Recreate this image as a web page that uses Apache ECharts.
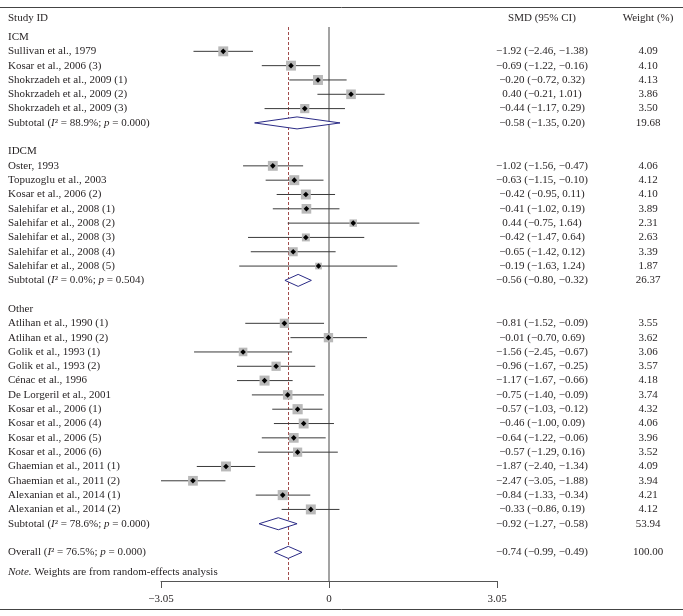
<!DOCTYPE html>
<html>
<head>
<meta charset="utf-8">
<script src="https://cdn.jsdelivr.net/npm/echarts@6/dist/echarts.min.js"></script>
<style>
html,body{margin:0;padding:0;background:#fff;}
#chart{width:683px;height:616px;}
</style>
</head>
<body>
<div id="chart"></div>
<script>
// ---------- DATA ----------
const headerLabels = ['Study ID', 'SMD (95% CI)', 'Weight (%)'];
const groupNames = ['ICM', 'IDCM', 'Other'];
const groupSizes = [5, 8, 14];
const studyNames = [
  'Sullivan et al., 1979', 'Kosar et al., 2006 (3)', 'Shokrzadeh et al., 2009 (1)', 'Shokrzadeh et al., 2009 (2)', 'Shokrzadeh et al., 2009 (3)',
  'Oster, 1993', 'Topuzoglu et al., 2003', 'Kosar et al., 2006 (2)', 'Salehifar et al., 2008 (1)', 'Salehifar et al., 2008 (2)',
  'Salehifar et al., 2008 (3)', 'Salehifar et al., 2008 (4)', 'Salehifar et al., 2008 (5)',
  'Atlihan et al., 1990 (1)', 'Atlihan et al., 1990 (2)', 'Golik et al., 1993 (1)', 'Golik et al., 1993 (2)', 'Cénac et al., 1996',
  'De Lorgeril et al., 2001', 'Kosar et al., 2006 (1)', 'Kosar et al., 2006 (4)', 'Kosar et al., 2006 (5)', 'Kosar et al., 2006 (6)',
  'Ghaemian et al., 2011 (1)', 'Ghaemian et al., 2011 (2)', 'Alexanian et al., 2014 (1)', 'Alexanian et al., 2014 (2)'
];
const smd = [-1.92, -0.69, -0.20, 0.40, -0.44,
  -1.02, -0.63, -0.42, -0.41, 0.44, -0.42, -0.65, -0.19,
  -0.81, -0.01, -1.56, -0.96, -1.17, -0.75, -0.57, -0.46, -0.64, -0.57, -1.87, -2.47, -0.84, -0.33];
const ciLow = [-2.46, -1.22, -0.72, -0.21, -1.17,
  -1.56, -1.15, -0.95, -1.02, -0.75, -1.47, -1.42, -1.63,
  -1.52, -0.70, -2.45, -1.67, -1.67, -1.40, -1.03, -1.00, -1.22, -1.29, -2.40, -3.05, -1.33, -0.86];
const ciHigh = [-1.38, -0.16, 0.32, 1.01, 0.29,
  -0.47, -0.10, 0.11, 0.19, 1.64, 0.64, 0.12, 1.24,
  -0.09, 0.69, -0.67, -0.25, -0.66, -0.09, -0.12, 0.09, -0.06, 0.16, -1.34, -1.88, -0.34, 0.19];
const weights = [4.09, 4.10, 4.13, 3.86, 3.50,
  4.06, 4.12, 4.10, 3.89, 2.31, 2.63, 3.39, 1.87,
  3.55, 3.62, 3.06, 3.57, 4.18, 3.74, 4.32, 4.06, 3.96, 3.52, 4.09, 3.94, 4.21, 4.12];
const subtotalI2 = ['88.9', '0.0', '78.6'];
const subtotalP = ['0.000', '0.504', '0.000'];
const subtotalSMD = [-0.58, -0.56, -0.92];
const subtotalLow = [-1.35, -0.80, -1.27];
const subtotalHigh = [0.20, -0.32, -0.58];
const subtotalWeight = [19.68, 26.37, 53.94];
const overallI2 = '76.5';
const overallP = '0.000';
const overallSMD = -0.74;
const overallLow = -0.99;
const overallHigh = -0.49;
const overallWeight = 100.00;
const noteText = 'Weights are from random-effects analysis';
const xTicks = [-3.05, 0, 3.05];

// ---------- LAYOUT / STYLE ----------
const FONT = '"Liberation Serif", "DejaVu Serif", serif';
const FS = 11;
const TXT = '#231f20';
const COL_LABEL_X = 8, COL_SMD_X = 542, COL_W_X = 648;
const HEADER_ROW = -1.33, NOTE_ROW = 37.35;

function fmt(v) { const s = v.toFixed(2); return s.replace('-', '\u2212'); }
function ciText(e, l, h) { return fmt(e) + ' (' + fmt(l) + ', ' + fmt(h) + ')'; }

// build rows
const rows = [];
let r = 0, si = 0;
rows.push({kind: 'header', row: HEADER_ROW});
for (let g = 0; g < groupNames.length; g++) {
  rows.push({kind: 'group', row: r, label: groupNames[g]}); r++;
  for (let k = 0; k < groupSizes[g]; k++) {
    rows.push({kind: 'study', row: r, label: studyNames[si], est: smd[si], lo: ciLow[si], hi: ciHigh[si], w: weights[si]});
    si++; r++;
  }
  rows.push({kind: 'subtotal', row: r, label: '{n|Subtotal (}{i|I}{n|\u00b2 = ' + subtotalI2[g] + '%; }{i|p}{n| = ' + subtotalP[g] + ')}',
    est: subtotalSMD[g], lo: subtotalLow[g], hi: subtotalHigh[g], w: subtotalWeight[g]});
  r += 2;
}
rows.push({kind: 'overall', row: r, label: '{n|Overall (}{i|I}{n|\u00b2 = ' + overallI2 + '%; }{i|p}{n| = ' + overallP + ')}',
  est: overallSMD, lo: overallLow, hi: overallHigh, w: overallWeight});
rows.push({kind: 'note', row: NOTE_ROW, label: '{i|Note.}{n| ' + noteText + '}'});

const rich = {
  n: {fontFamily: FONT, fontSize: FS, fill: TXT, color: TXT},
  i: {fontFamily: FONT, fontSize: FS, fontStyle: 'italic', fill: TXT, color: TXT}
};

function txt(x, y, text, align, useRich) {
  const st = {text: text, x: x, y: y, align: align, verticalAlign: 'middle', fill: TXT,
    font: FS + 'px ' + FONT};
  if (useRich) st.rich = rich;
  return {type: 'text', x: 0, y: 0, style: st, z2: 10};
}

function renderItem(params, api) {
  const d = rows[params.dataIndex];
  const y = api.coord([0, d.row])[1];
  const ch = [];
  if (d.kind === 'header') {
    ch.push(txt(COL_LABEL_X, y, headerLabels[0], 'left'));
    ch.push(txt(COL_SMD_X, y, headerLabels[1], 'center'));
    ch.push(txt(COL_W_X, y, headerLabels[2], 'center'));
  } else if (d.kind === 'group') {
    ch.push(txt(COL_LABEL_X, y, d.label, 'left'));
  } else if (d.kind === 'note') {
    ch.push(txt(COL_LABEL_X, y, d.label, 'left', true));
  } else if (d.kind === 'study') {
    const p1 = api.coord([d.lo, d.row]), p2 = api.coord([d.hi, d.row]), pc = api.coord([d.est, d.row]);
    const s = 4.9 * Math.sqrt(d.w);
    ch.push({type: 'line', shape: {x1: p1[0], y1: y, x2: p2[0], y2: y}, style: {stroke: '#3a3a3a', lineWidth: 1}, z2: 1});
    ch.push({type: 'rect', shape: {x: pc[0] - s / 2, y: y - s / 2, width: s, height: s}, style: {fill: '#b9b9b9'}, z2: 2});
    ch.push({type: 'polygon', shape: {points: [[pc[0], y - 2.8], [pc[0] + 2.8, y], [pc[0], y + 2.8], [pc[0] - 2.8, y]]}, style: {fill: '#000'}, z2: 3});
    ch.push(txt(COL_LABEL_X, y, d.label, 'left'));
    ch.push(txt(COL_SMD_X, y, ciText(d.est, d.lo, d.hi), 'center'));
    ch.push(txt(COL_W_X, y, d.w.toFixed(2), 'center'));
  } else {
    const p1 = api.coord([d.lo, d.row]), p2 = api.coord([d.hi, d.row]), pc = api.coord([d.est, d.row]);
    const h = 6;
    ch.push({type: 'polygon', shape: {points: [[p1[0], y], [pc[0], y - h], [p2[0], y], [pc[0], y + h]]},
      style: {fill: '#fff', stroke: '#2b2b86', lineWidth: 1}, z2: 2});
    ch.push(txt(COL_LABEL_X, y, d.label, 'left', true));
    ch.push(txt(COL_SMD_X, y, ciText(d.est, d.lo, d.hi), 'center'));
    ch.push(txt(COL_W_X, y, d.w.toFixed(2), 'center'));
  }
  return {type: 'group', children: ch};
}

const chart = echarts.init(document.getElementById('chart'), null, {renderer: 'canvas'});
chart.setOption({
  animation: false,
  backgroundColor: '#fff',
  grid: {left: 161, right: 186, top: 27, bottom: 35, containLabel: false},
  xAxis: {
    type: 'value', min: xTicks[0], max: xTicks[2], interval: xTicks[2],
    axisLine: {show: true, onZero: false, lineStyle: {color: '#555', width: 1}},
    axisTick: {show: true, length: 7, lineStyle: {color: '#555', width: 1}},
    splitLine: {show: false},
    axisLabel: {margin: 13, fontFamily: FONT, fontSize: FS, color: TXT,
      formatter: v => (Math.abs(v) < 1e-9 ? '0' : fmt(v))}
  },
  yAxis: {type: 'value', inverse: true, min: -0.7, max: 38, show: false},
  graphic: [
    {type: 'line', shape: {x1: 0, y1: 7.5, x2: 683, y2: 7.5}, style: {stroke: '#444', lineWidth: 1}},
    {type: 'line', shape: {x1: 0, y1: 609.5, x2: 683, y2: 609.5}, style: {stroke: '#444', lineWidth: 1}}
  ],
  series: [
    {
      type: 'line', data: [], z: 1,
      markLine: {
        silent: true, symbol: 'none', animation: false, label: {show: false},
        data: [
          {xAxis: 0, lineStyle: {color: '#8c8c8c', width: 1.6, type: 'solid'}},
          {xAxis: overallSMD, lineStyle: {color: '#a04c4c', width: 1, type: [3, 2]}}
        ]
      }
    },
    {
      type: 'custom', z: 5, clip: false,
      renderItem: renderItem,
      encode: {x: 0, y: 1},
      data: rows.map(d => [0, d.row])
    }
  ]
});
</script>
</body>
</html>
